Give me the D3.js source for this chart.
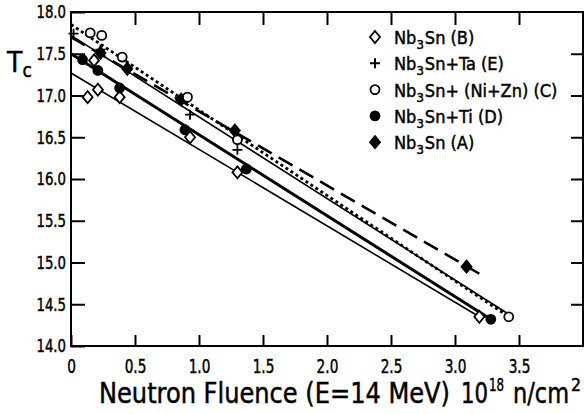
<!DOCTYPE html>
<html>
<head>
<meta charset="utf-8">
<script src="https://cdn.jsdelivr.net/npm/d3@7"></script>
<style>
  body { margin: 0; background: #fff; }
  svg text { font-family: "Liberation Sans Narrow", "DejaVu Sans Condensed", "DejaVu Sans", sans-serif; fill: #000; stroke: #000; stroke-width: 0.45px; }
</style>
</head>
<body>
<div id="chart"></div>
<script>
// Tick values and labels
var xTicks = [0, 0.5, 1.0, 1.5, 2.0, 2.5, 3.0, 3.5];
var xTickLabels = ['0', '0.5', '1.0', '1.5', '2.0', '2.5', '3.0', '3.5'];
var yTicks = [14.0, 14.5, 15.0, 15.5, 16.0, 16.5, 17.0, 17.5, 18.0];
var yTickLabels = ['14.0', '14.5', '15.0', '15.5', '16.0', '16.5', '17.0', '17.5', '18.0'];

// Measured points [fluence, Tc]
var pointsB = [[0.13, 16.98], [0.21, 17.07], [0.18, 17.42], [0.38, 16.98], [0.93, 16.50], [1.30, 16.08], [3.19, 14.35]];
var pointsE = [[0.02, 17.74], [0.23, 17.55], [0.93, 16.77], [1.30, 16.35]];
var pointsC = [[0.15, 17.75], [0.24, 17.72], [0.40, 17.46], [0.91, 16.98], [1.30, 16.47], [3.42, 14.35]];
var pointsD = [[0.09, 17.43], [0.21, 17.30], [0.38, 17.09], [0.89, 16.59], [1.37, 16.12], [3.28, 14.32]];
var pointsA = [[0.23, 17.51], [0.44, 17.32], [0.86, 16.95], [1.28, 16.58], [3.09, 14.95]];

// Fitted lines (end points)
var fitB = [[0, 17.27], [3.19, 14.35]];
var fitE = [[0, 17.72], [3.42, 14.38]];
var fitC = [[0, 17.85], [3.42, 14.35]];
var fitD = [[0, 17.50], [3.28, 14.32]];
var fitA = [[0, 17.70], [3.23, 14.83]];

var legendNames = ['B', 'E', 'C', 'D', 'A'];

var width = 585, height = 414;
var pLeft = 71, pRight = 583, pTop = 12, pBottom = 346;

var svg = d3.select('#chart').append('svg')
  .attr('width', width)
  .attr('height', height);

var x = d3.scaleLinear().domain([0, 4]).range([pLeft, pRight]);
var y = d3.scaleLinear().domain([14, 18]).range([pBottom, pTop]);

// squeeze text horizontally (no narrow font installed)
function condense(sel, f) {
  sel.each(function() {
    var w = this.getComputedTextLength();
    d3.select(this).attr('textLength', w * f).attr('lengthAdjust', 'spacingAndGlyphs');
  });
}

// frame
svg.append('rect')
  .attr('x', pLeft).attr('y', pTop)
  .attr('width', pRight - pLeft).attr('height', pBottom - pTop)
  .attr('fill', 'none').attr('stroke', '#000').attr('stroke-width', 2);

// ticks (all inward)
var bottomAxis = d3.axisBottom(x).tickValues(xTicks).tickSize(-11).tickSizeOuter(0)
  .tickPadding(14).tickFormat(function(d, i) { return xTickLabels[i]; });
var topAxis = d3.axisTop(x).tickValues(xTicks.slice(1)).tickSize(-13).tickSizeOuter(0).tickFormat('');
var leftAxis = d3.axisLeft(y).tickValues(yTicks).tickSize(-14).tickSizeOuter(0)
  .tickPadding(5).tickFormat(function(d, i) { return yTickLabels[i]; });
var rightAxis = d3.axisRight(y).tickValues(yTicks.slice(1, -1)).tickSize(-12).tickSizeOuter(0).tickFormat('');

function styleAxis(g) {
  g.select('.domain').remove();
  g.selectAll('.tick line').attr('stroke', '#000').attr('stroke-width', 2);
}

svg.append('g').attr('transform', 'translate(0,' + pBottom + ')').call(bottomAxis).call(styleAxis)
  .selectAll('.tick text').attr('font-size', 19).attr('font-family', null).call(condense, 0.8);
svg.append('g').attr('transform', 'translate(0,' + pTop + ')').call(topAxis).call(styleAxis);
svg.append('g').attr('transform', 'translate(' + pLeft + ',0)').call(leftAxis).call(styleAxis)
  .selectAll('.tick text').attr('font-size', 18).attr('font-family', null).call(condense, 0.82);
svg.append('g').attr('transform', 'translate(' + pRight + ',0)').call(rightAxis).call(styleAxis);

// fit lines
var line = d3.line().x(function(d) { return x(d[0]); }).y(function(d) { return y(d[1]); });

var plot = svg.append('g');
plot.append('path').datum(fitB).attr('d', line)
  .attr('fill', 'none').attr('stroke', '#000').attr('stroke-width', 1.6);
plot.append('path').datum(fitD).attr('d', line)
  .attr('fill', 'none').attr('stroke', '#000').attr('stroke-width', 3);
plot.append('path').datum(fitE).attr('d', line)
  .attr('fill', 'none').attr('stroke', '#000').attr('stroke-width', 1.6);
plot.append('path').datum(fitC).attr('d', line)
  .attr('fill', 'none').attr('stroke', '#000').attr('stroke-width', 2.8)
  .attr('stroke-dasharray', '3,3');
plot.append('path').datum(fitA).attr('d', line)
  .attr('fill', 'none').attr('stroke', '#000').attr('stroke-width', 2.6)
  .attr('stroke-dasharray', '16,8');

// markers
var diamond = 'M0,-6L5,0L0,6L-5,0Z';
var plus = 'M-5,0H5M0,-5V5';

function drawMarkers(pts, kind) {
  var g = plot.append('g');
  var sel = g.selectAll('.m').data(pts).enter();
  if (kind === 'openDiamond' || kind === 'fillDiamond') {
    sel.append('path').attr('d', diamond)
      .attr('transform', function(d) { return 'translate(' + x(d[0]) + ',' + y(d[1]) + ')'; })
      .attr('fill', kind === 'fillDiamond' ? '#000' : '#fff')
      .attr('stroke', '#000').attr('stroke-width', 1.8);
  } else if (kind === 'openCircle' || kind === 'fillCircle') {
    sel.append('circle')
      .attr('cx', function(d) { return x(d[0]); })
      .attr('cy', function(d) { return y(d[1]); })
      .attr('r', 4.5)
      .attr('fill', kind === 'fillCircle' ? '#000' : '#fff')
      .attr('stroke', '#000').attr('stroke-width', 1.8);
  } else {
    sel.append('path').attr('d', plus)
      .attr('transform', function(d) { return 'translate(' + x(d[0]) + ',' + y(d[1]) + ')'; })
      .attr('fill', 'none').attr('stroke', '#000').attr('stroke-width', 1.8);
  }
}

drawMarkers(pointsB, 'openDiamond');
drawMarkers(pointsE, 'plus');
drawMarkers(pointsD, 'fillCircle');
drawMarkers(pointsA, 'fillDiamond');
drawMarkers(pointsC, 'openCircle');

// legend
var legendKinds = ['openDiamond', 'plus', 'openCircle', 'fillCircle', 'fillDiamond'];
var legendText = [
  ['Nb', '3', 'Sn (B)'],
  ['Nb', '3', 'Sn+Ta (E)'],
  ['Nb', '3', 'Sn+ (Ni+Zn) (C)'],
  ['Nb', '3', 'Sn+Ti (D)'],
  ['Nb', '3', 'Sn (A)']
];

var legend = svg.append('g').selectAll('g')
  .data(legendNames).enter().append('g')
  .attr('transform', function(d, i) { return 'translate(375,' + (37 + i * 26.3) + ')'; });

legend.each(function(d, i) {
  var g = d3.select(this);
  var k = legendKinds[i];
  if (k === 'openDiamond' || k === 'fillDiamond') {
    g.append('path').attr('d', diamond)
      .attr('fill', k === 'fillDiamond' ? '#000' : '#fff')
      .attr('stroke', '#000').attr('stroke-width', 1.8);
  } else if (k === 'openCircle' || k === 'fillCircle') {
    g.append('circle').attr('r', 4.5)
      .attr('fill', k === 'fillCircle' ? '#000' : '#fff')
      .attr('stroke', '#000').attr('stroke-width', 1.8);
  } else {
    g.append('path').attr('d', plus).attr('stroke', '#000').attr('stroke-width', 2);
  }
  var t = g.append('text').attr('x', 19).attr('y', 7).attr('font-size', 18);
  t.append('tspan').text(legendText[i][0]);
  t.append('tspan').attr('font-size', 13).attr('dy', 5).text(legendText[i][1]);
  t.append('tspan').attr('dy', -5).attr('dx', 1).text(legendText[i][2]);
});

// y label T_c
var tc = svg.append('text').attr('x', 7).attr('y', 72).attr('font-size', 28);
tc.append('tspan').text('T');
tc.append('tspan').attr('font-size', 19).attr('dy', 5).text('c');

// x label
svg.append('text').attr('x', 99).attr('y', 403).attr('font-size', 28)
  .attr('textLength', 351).attr('lengthAdjust', 'spacingAndGlyphs')
  .text('Neutron Fluence (E=14 MeV)');
var unit = svg.append('text').attr('x', 461).attr('y', 403).attr('font-size', 28);
unit.append('tspan').attr('textLength', 27).attr('lengthAdjust', 'spacingAndGlyphs').text('10');
unit.append('tspan').attr('dx', 1).attr('dy', -12).attr('font-size', 17)
  .attr('textLength', 15).attr('lengthAdjust', 'spacingAndGlyphs').text('18');
unit.append('tspan').attr('dx', 9).attr('dy', 12)
  .attr('textLength', 56).attr('lengthAdjust', 'spacingAndGlyphs').text('n/cm');
unit.append('tspan').attr('dx', 2).attr('dy', -12).attr('font-size', 17)
  .attr('textLength', 10).attr('lengthAdjust', 'spacingAndGlyphs').text('2');
</script>
</body>
</html>
